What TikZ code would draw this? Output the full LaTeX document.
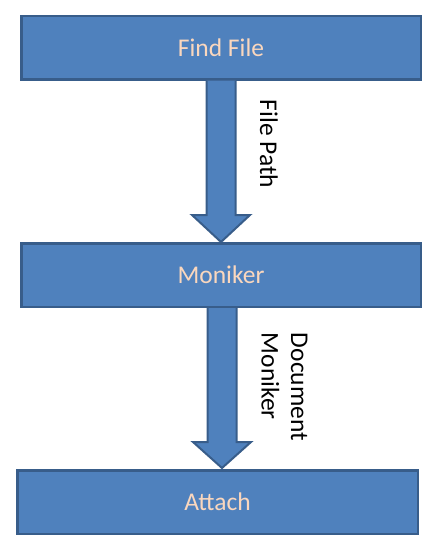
\documentclass[tikz,border=0pt]{standalone}
\usepackage{fontspec}
\setmainfont{Carlito}
\usetikzlibrary{calc}
\definecolor{boxfill}{HTML}{4F81BD}
\definecolor{boxline}{HTML}{385D8A}
\definecolor{peach}{HTML}{FAD7BE}
\tikzset{
  x=1pt,y=-1pt,
  stagebox/.style={draw=boxline,fill=boxfill,line width=2.5pt,minimum height=63.5pt,inner sep=0pt,
    font=\fontsize{25.5}{30}\selectfont,text=peach},
  blockarrow/.style={draw=boxline,fill=boxfill,line width=2pt,line join=miter},
  flowlabel/.style={font=\fontsize{25.5}{29.5}\selectfont,text=black,rotate=-90,align=left,inner sep=0pt}
}
\begin{document}
\begin{tikzpicture}
\useasboundingbox (0,0) rectangle (439,552);
\node[stagebox,minimum width=399.5pt] (find) at (221,47.5) {Find File};
\node[stagebox,minimum width=399.5pt] (mon) at (221,275) {Moniker};
\node[stagebox,minimum width=400.5pt] (att) at (217.5,502) {Attach};
% arrow 1
\coordinate (t1) at (221,242);
\draw[blockarrow] ($(find.south)+(-14.5,0)$) -- ($(t1)+(-14.5,-27)$) -- ($(t1)+(-29,-27)$) -- (t1)
  -- ($(t1)+(29,-27)$) -- ($(t1)+(14.5,-27)$) -- ($(find.south)+(14.5,0)$);
% arrow 2
\coordinate (t2) at (222,468);
\draw[blockarrow] ($(mon.south)+(-13.5,0)$) -- ($(t2)+(-14.5,-26)$) -- ($(t2)+(-29,-26)$) -- (t2)
  -- ($(t2)+(29,-26)$) -- ($(t2)+(14.5,-26)$) -- ($(mon.south)+(15.5,0)$);
\node[flowlabel] (lab1) at (269,144) {File Path};
\node[flowlabel] (lab2) at (284.5,387) {Document\\Moniker};
\end{tikzpicture}
\end{document}
